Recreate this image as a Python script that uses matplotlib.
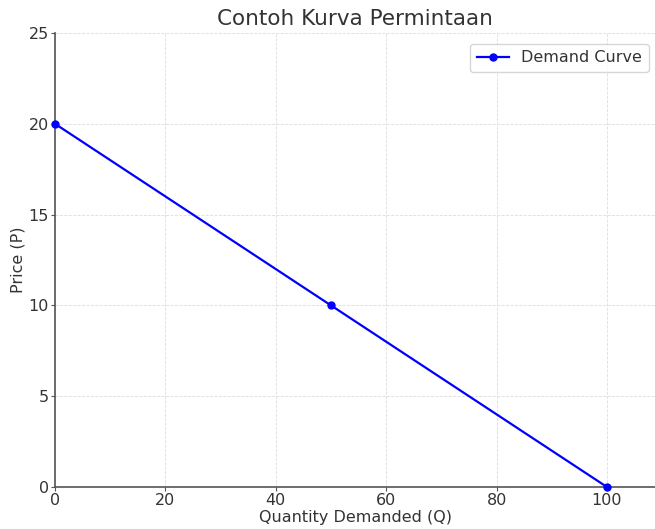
import matplotlib
matplotlib.use("Agg")
import matplotlib.pyplot as plt

quantity = [0, 50, 100]
price = [20, 10, 0]

text_color = "#333333"

fig = plt.figure(figsize=(6.55, 5.29), dpi=100)
ax = fig.add_axes([0.084, 0.0794, 0.916, 0.8582])

ax.plot(quantity, price, "-o", color="blue", linewidth=1.6, markersize=5,
        label="Demand Curve", clip_on=False, zorder=3)

ax.set_xlim(0, 108.7)
ax.set_ylim(0, 25)
ax.set_xticks([0, 20, 40, 60, 80, 100])
ax.set_yticks([0, 5, 10, 15, 20, 25])

ax.grid(True, linestyle="--", color="#dddddd", linewidth=0.6)
ax.set_axisbelow(True)

for side in ["top", "right"]:
    ax.spines[side].set_visible(False)
for side in ["left", "bottom"]:
    ax.spines[side].set_color("#555555")
    ax.spines[side].set_linewidth(1.2)

ax.tick_params(axis="both", labelsize=11.5, colors=text_color, length=3,
               color="#555555", pad=1.5)

ax.set_title("Contoh Kurva Permintaan", fontsize=15.5, color=text_color, pad=6)
ax.set_xlabel("Quantity Demanded (Q)", fontsize=11.5, color=text_color, labelpad=1)
ax.set_ylabel("Price (P)", fontsize=11.5, color=text_color, labelpad=2)

leg = ax.legend(loc="upper right", fontsize=11.5, frameon=True,
                bbox_to_anchor=(1.0, 0.99), borderaxespad=0.4)
for t in leg.get_texts():
    t.set_color(text_color)

fig.savefig("out.png", dpi=100)
